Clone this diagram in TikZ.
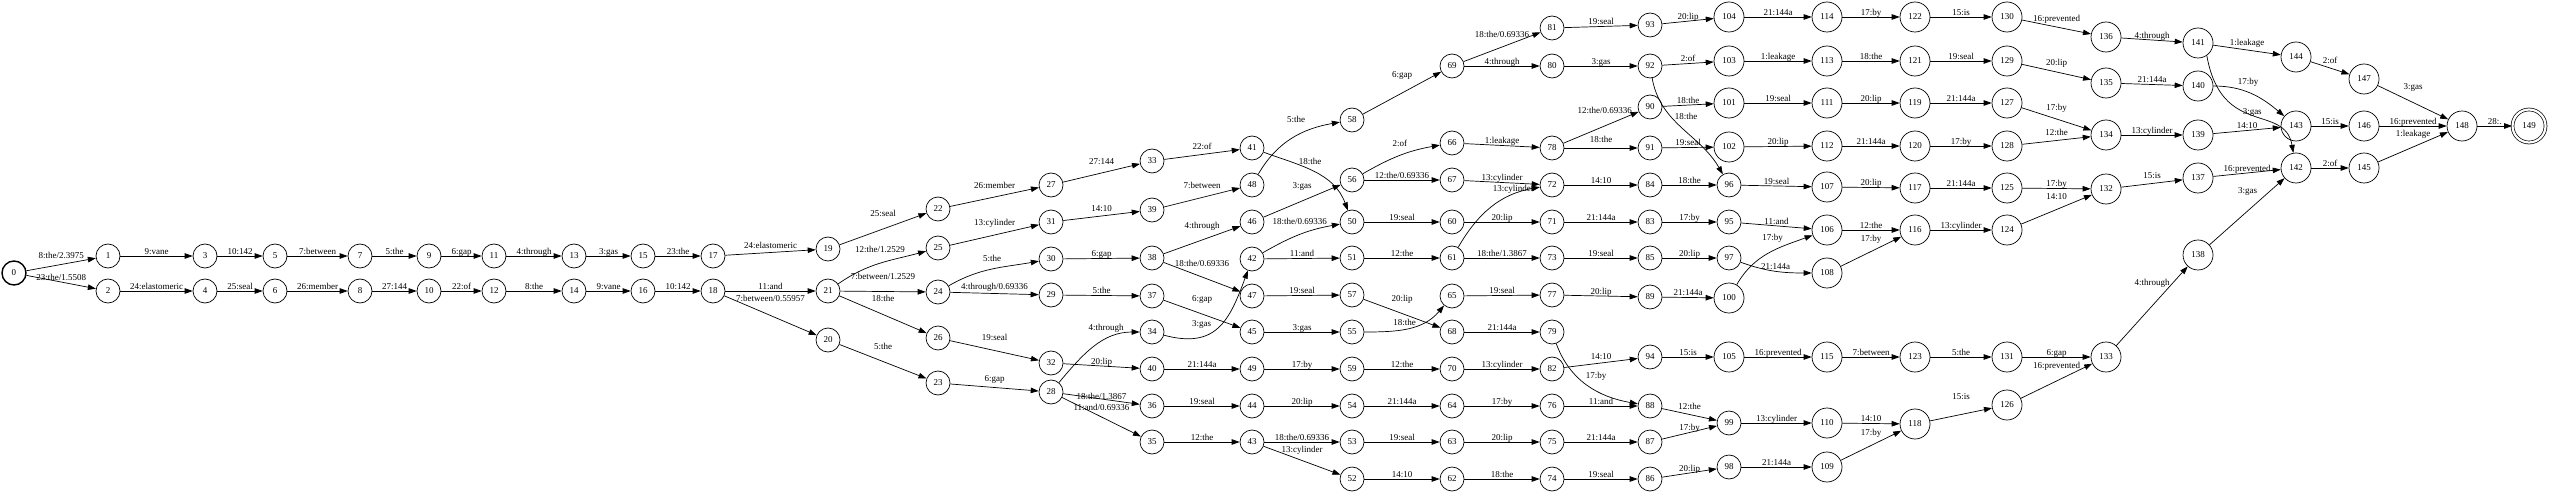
\documentclass[tikz,border=0pt]{standalone}
\usepackage{fontspec}
\setmainfont{Liberation Serif}
\usetikzlibrary{arrows.meta}

\begin{document}
\begin{tikzpicture}[x=1pt,y=1pt,>={Triangle[length=8pt,width=5.5pt]}]
  \tikzstyle{st}=[circle,draw,line width=.7pt,inner sep=0pt,minimum size=24pt,font=\fontsize{9}{10}\selectfont]
  \tikzstyle{wst}=[st,minimum size=30pt]
  \tikzstyle{fin}=[st,double,double distance=2.2pt,minimum size=33pt]
  \tikzstyle{lab}=[font=\fontsize{9}{10}\selectfont,text height=6.2pt,text depth=0pt,inner sep=1.5pt]
  \useasboundingbox (0,0) rectangle (2550,-494);
  \node[st,line width=1.4pt] (n0) at (14,-273) {0};
  \node[st] (n1) at (108,-256) {1};
  \node[st] (n2) at (108,-291) {2};
  \node[st] (n3) at (205,-256) {3};
  \node[st] (n4) at (205,-291) {4};
  \node[st] (n5) at (275,-256) {5};
  \node[st] (n6) at (275,-291) {6};
  \node[st] (n7) at (360,-256) {7};
  \node[st] (n8) at (360,-291) {8};
  \node[st] (n9) at (429,-256) {9};
  \node[st] (n10) at (429,-291) {10};
  \node[st] (n11) at (494,-256) {11};
  \node[st] (n12) at (494,-291) {12};
  \node[st] (n13) at (574,-256) {13};
  \node[st] (n14) at (574,-291) {14};
  \node[st] (n15) at (643,-256) {15};
  \node[st] (n16) at (643,-291) {16};
  \node[st] (n17) at (713,-256) {17};
  \node[st] (n18) at (713,-291) {18};
  \node[st] (n19) at (828,-249) {19};
  \node[st] (n20) at (828,-340) {20};
  \node[st] (n21) at (828,-291) {21};
  \node[st] (n22) at (938,-209) {22};
  \node[st] (n23) at (938,-383) {23};
  \node[st] (n24) at (938,-292) {24};
  \node[st] (n25) at (938,-248) {25};
  \node[st] (n26) at (938,-338) {26};
  \node[st] (n27) at (1051,-185) {27};
  \node[st] (n28) at (1051,-392) {28};
  \node[st] (n29) at (1051,-295) {29};
  \node[st] (n30) at (1051,-259) {30};
  \node[st] (n31) at (1051,-222) {31};
  \node[st] (n32) at (1051,-363) {32};
  \node[st] (n33) at (1152,-161) {33};
  \node[st] (n34) at (1152,-332) {34};
  \node[st] (n35) at (1152,-442) {35};
  \node[st] (n36) at (1152,-406) {36};
  \node[st] (n37) at (1152,-296) {37};
  \node[st] (n38) at (1152,-258) {38};
  \node[st] (n39) at (1152,-210) {39};
  \node[st] (n40) at (1152,-369) {40};
  \node[st] (n41) at (1252,-148) {41};
  \node[st] (n42) at (1252,-259) {42};
  \node[st] (n43) at (1252,-442) {43};
  \node[st] (n44) at (1252,-406) {44};
  \node[st] (n45) at (1252,-332) {45};
  \node[st] (n46) at (1252,-222) {46};
  \node[st] (n47) at (1252,-296) {47};
  \node[st] (n48) at (1252,-185) {48};
  \node[st] (n49) at (1252,-369) {49};
  \node[st] (n50) at (1352,-222) {50};
  \node[st] (n51) at (1352,-258) {51};
  \node[st] (n52) at (1352,-479) {52};
  \node[st] (n53) at (1352,-442) {53};
  \node[st] (n54) at (1352,-406) {54};
  \node[st] (n55) at (1352,-332) {55};
  \node[st] (n56) at (1352,-180) {56};
  \node[st] (n57) at (1352,-295) {57};
  \node[st] (n58) at (1352,-120) {58};
  \node[st] (n59) at (1352,-369) {59};
  \node[st] (n60) at (1452,-222) {60};
  \node[st] (n61) at (1452,-258) {61};
  \node[st] (n62) at (1452,-479) {62};
  \node[st] (n63) at (1452,-442) {63};
  \node[st] (n64) at (1452,-406) {64};
  \node[st] (n65) at (1452,-296) {65};
  \node[st] (n66) at (1452,-143) {66};
  \node[st] (n67) at (1452,-180) {67};
  \node[st] (n68) at (1452,-332) {68};
  \node[st] (n69) at (1452,-66) {69};
  \node[st] (n70) at (1452,-369) {70};
  \node[st] (n71) at (1552,-222) {71};
  \node[st] (n72) at (1552,-185) {72};
  \node[st] (n73) at (1552,-258) {73};
  \node[st] (n74) at (1552,-479) {74};
  \node[st] (n75) at (1552,-442) {75};
  \node[st] (n76) at (1552,-406) {76};
  \node[st] (n77) at (1552,-295) {77};
  \node[st] (n78) at (1552,-148) {78};
  \node[st] (n79) at (1552,-332) {79};
  \node[st] (n80) at (1552,-66) {80};
  \node[st] (n81) at (1552,-28) {81};
  \node[st] (n82) at (1552,-369) {82};
  \node[st] (n83) at (1650,-222) {83};
  \node[st] (n84) at (1650,-185) {84};
  \node[st] (n85) at (1650,-258) {85};
  \node[st] (n86) at (1650,-479) {86};
  \node[st] (n87) at (1650,-442) {87};
  \node[st] (n88) at (1650,-406) {88};
  \node[st] (n89) at (1650,-297) {89};
  \node[st] (n90) at (1650,-107) {90};
  \node[st] (n91) at (1650,-148) {91};
  \node[st] (n92) at (1650,-66) {92};
  \node[st] (n93) at (1650,-25) {93};
  \node[st] (n94) at (1650,-357) {94};
  \node[st] (n95) at (1729,-222) {95};
  \node[st] (n96) at (1729,-185) {96};
  \node[st] (n97) at (1729,-258) {97};
  \node[st] (n98) at (1729,-467) {98};
  \node[st] (n99) at (1729,-423) {99};
  \node[wst] (n100) at (1729,-298) {100};
  \node[wst] (n101) at (1729,-103) {101};
  \node[wst] (n102) at (1729,-147) {102};
  \node[wst] (n103) at (1729,-61) {103};
  \node[wst] (n104) at (1729,-17) {104};
  \node[wst] (n105) at (1729,-357) {105};
  \node[wst] (n106) at (1827,-230) {106};
  \node[wst] (n107) at (1827,-187) {107};
  \node[wst] (n108) at (1827,-273) {108};
  \node[wst] (n109) at (1827,-467) {109};
  \node[wst] (n110) at (1827,-423) {110};
  \node[wst] (n111) at (1827,-103) {111};
  \node[wst] (n112) at (1827,-146) {112};
  \node[wst] (n113) at (1827,-61) {113};
  \node[wst] (n114) at (1827,-17) {114};
  \node[wst] (n115) at (1827,-357) {115};
  \node[wst] (n116) at (1915,-230) {116};
  \node[wst] (n117) at (1915,-188) {117};
  \node[wst] (n118) at (1915,-424) {118};
  \node[wst] (n119) at (1915,-103) {119};
  \node[wst] (n120) at (1915,-146) {120};
  \node[wst] (n121) at (1915,-61) {121};
  \node[wst] (n122) at (1915,-17) {122};
  \node[wst] (n123) at (1915,-357) {123};
  \node[wst] (n124) at (2007,-230) {124};
  \node[wst] (n125) at (2007,-188) {125};
  \node[wst] (n126) at (2007,-405) {126};
  \node[wst] (n127) at (2007,-103) {127};
  \node[wst] (n128) at (2007,-146) {128};
  \node[wst] (n129) at (2007,-61) {129};
  \node[wst] (n130) at (2007,-17) {130};
  \node[wst] (n131) at (2007,-357) {131};
  \node[wst] (n132) at (2106,-189) {132};
  \node[wst] (n133) at (2106,-357) {133};
  \node[wst] (n134) at (2106,-135) {134};
  \node[wst] (n135) at (2106,-83) {135};
  \node[wst] (n136) at (2106,-37) {136};
  \node[wst] (n137) at (2198,-178) {137};
  \node[wst] (n138) at (2198,-255) {138};
  \node[wst] (n139) at (2198,-135) {139};
  \node[wst] (n140) at (2198,-86) {140};
  \node[wst] (n141) at (2198,-43) {141};
  \node[wst] (n142) at (2296,-168) {142};
  \node[wst] (n143) at (2296,-126) {143};
  \node[wst] (n144) at (2296,-57) {144};
  \node[wst] (n145) at (2364,-168) {145};
  \node[wst] (n146) at (2364,-126) {146};
  \node[wst] (n147) at (2364,-79) {147};
  \node[wst] (n148) at (2462,-126) {148};
  \node[fin] (n149) at (2529,-126) {149};
  \begin{scope}[->,line width=.7pt]
  \draw (n0) -- node[lab,above=4pt] {8:the/2.3975} (n1);
  \draw (n0) -- node[lab,above] {23:the/1.5508} (n2);
  \draw (n1) -- node[lab,above] {9:vane} (n3);
  \draw (n2) -- node[lab,above] {24:elastomeric} (n4);
  \draw (n3) -- node[lab,above] {10:142} (n5);
  \draw (n4) -- node[lab,above] {25:seal} (n6);
  \draw (n5) -- node[lab,above] {7:between} (n7);
  \draw (n6) -- node[lab,above] {26:member} (n8);
  \draw (n7) -- node[lab,above] {5:the} (n9);
  \draw (n8) -- node[lab,above] {27:144} (n10);
  \draw (n9) -- node[lab,above] {6:gap} (n11);
  \draw (n10) -- node[lab,above] {22:of} (n12);
  \draw (n11) -- node[lab,above] {4:through} (n13);
  \draw (n12) -- node[lab,above] {8:the} (n14);
  \draw (n13) -- node[lab,above] {3:gas} (n15);
  \draw (n14) -- node[lab,above] {9:vane} (n16);
  \draw (n15) -- node[lab,above] {23:the} (n17);
  \draw (n16) -- node[lab,above] {10:142} (n18);
  \draw (n17) -- node[lab,above=2pt] {24:elastomeric} (n19);
  \draw (n18) -- node[lab,above] {11:and} (n21);
  \draw (n18) -- node[lab,above=12pt] {7:between/0.55957} (n20);
  \draw (n19) -- node[lab,above=11pt] {25:seal} (n22);
  \draw (n21) to[out=35,in=195] node[lab,above=9pt] {12:the/1.2529} (n25);
  \draw (n21) -- node[lab,above=10pt] {7:between/1.2529} (n24);
  \draw (n21) -- node[lab,above=11pt] {18:the} (n26);
  \draw (n20) -- node[lab,above=10pt] {5:the} (n23);
  \draw (n22) -- node[lab,above=7pt] {26:member} (n27);
  \draw (n25) -- node[lab,above=8pt] {13:cylinder} (n31);
  \draw (n24) to[out=30,in=190] node[lab,above=6pt] {5:the} (n30);
  \draw (n24) -- node[lab,above=2pt] {4:through/0.69336} (n29);
  \draw (n26) -- node[lab,above=8pt] {19:seal} (n32);
  \draw (n23) -- node[lab,above=4pt] {6:gap} (n28);
  \draw (n27) -- node[lab,above=7pt] {27:144} (n33);
  \draw (n33) -- node[lab,above=3pt] {22:of} (n41);
  \draw (n31) -- node[lab,above=3pt] {14:10} (n39);
  \draw (n39) -- node[lab,above=7pt] {7:between} (n48);
  \draw (n30) -- node[lab,above] {6:gap} (n38);
  \draw (n38) -- node[lab,above=10pt] {4:through} (n46);
  \draw (n38) -- node[lab,above=9pt] {18:the/0.69336} (n47);
  \draw (n29) -- node[lab,above] {5:the} (n37);
  \draw (n37) -- node[lab,above=11pt] {6:gap} (n45);
  \draw (n28) to[out=50,in=180] node[lab,pos=.65,above=7pt] {4:through} (n34);
  \draw (n34) to[out=-15,in=-110,looseness=1.3] node[lab,pos=.3,above=9pt] {3:gas} (n42);
  \draw (n32) -- node[lab,above] {20:lip} (n40);
  \draw (n40) -- node[lab,above] {21:144a} (n49);
  \draw (n28) -- node[lab,above=-2pt] {18:the/1.3867} (n36);
  \draw (n28) -- node[lab,above=5pt] {11:and/0.69336} (n35);
  \draw (n36) -- node[lab,above] {19:seal} (n44);
  \draw (n35) -- node[lab,above] {12:the} (n43);
  \draw (n41) to[out=-20,in=110] node[lab,pos=.45,above=4pt] {18:the} (n50);
  \draw (n48) to[out=60,in=190] node[lab,pos=.55,above=12pt] {5:the} (n58);
  \draw (n46) -- node[lab,above=11pt] {3:gas} (n56);
  \draw (n42) to[out=30,in=190] node[lab,above=8pt] {18:the/0.69336} (n50);
  \draw (n42) -- node[lab,above] {11:and} (n51);
  \draw (n47) -- node[lab,above] {19:seal} (n57);
  \draw (n45) -- node[lab,above] {3:gas} (n55);
  \draw (n49) -- node[lab,above] {17:by} (n59);
  \draw (n44) -- node[lab,above] {20:lip} (n54);
  \draw (n43) -- node[lab,above] {18:the/0.69336} (n53);
  \draw (n43) -- node[lab,above=6pt] {13:cylinder} (n52);
  \draw (n58) -- node[lab,above=14pt] {6:gap} (n69);
  \draw (n56) to[out=30,in=190] node[lab,above=7pt] {2:of} (n66);
  \draw (n56) -- node[lab,above] {12:the/0.69336} (n67);
  \draw (n50) -- node[lab,above] {19:seal} (n60);
  \draw (n51) -- node[lab,above] {12:the} (n61);
  \draw (n57) -- node[lab,above=10pt] {20:lip} (n68);
  \draw (n55) to[out=0,in=230] node[lab,pos=.45,above=2pt] {18:the} (n65);
  \draw (n59) -- node[lab,above] {12:the} (n70);
  \draw (n54) -- node[lab,above] {21:144a} (n64);
  \draw (n53) -- node[lab,above] {19:seal} (n63);
  \draw (n52) -- node[lab,above] {14:10} (n62);
  \draw (n69) -- node[lab,above=8pt] {18:the/0.69336} (n81);
  \draw (n69) -- node[lab,above] {4:through} (n80);
  \draw (n66) -- node[lab,above] {1:leakage} (n78);
  \draw (n67) -- node[lab,above] {13:cylinder} (n72);
  \draw (n61) to[out=60,in=190] node[lab,pos=.75,above=1pt] {13:cylinder} (n72);
  \draw (n60) -- node[lab,above] {20:lip} (n71);
  \draw (n61) -- node[lab,above] {18:the/1.3867} (n73);
  \draw (n65) -- node[lab,above] {19:seal} (n77);
  \draw (n68) -- node[lab,above] {21:144a} (n79);
  \draw (n70) -- node[lab,above] {13:cylinder} (n82);
  \draw (n64) -- node[lab,above] {17:by} (n76);
  \draw (n63) -- node[lab,above] {20:lip} (n75);
  \draw (n62) -- node[lab,above] {18:the} (n74);
  \draw (n81) -- node[lab,above] {19:seal} (n93);
  \draw (n80) -- node[lab,above] {3:gas} (n92);
  \draw (n78) -- node[lab,pos=.55,above=11pt] {12:the/0.69336} (n90);
  \draw (n78) -- node[lab,above=4pt] {18:the} (n91);
  \draw (n72) -- node[lab,above] {14:10} (n84);
  \draw (n71) -- node[lab,above] {21:144a} (n83);
  \draw (n73) -- node[lab,above] {19:seal} (n85);
  \draw (n77) -- node[lab,above] {20:lip} (n89);
  \draw (n82) -- node[lab,above=2pt] {14:10} (n94);
  \draw (n79) to[out=-70,in=170] node[lab,pos=.35,right=8pt] {17:by} (n88);
  \draw (n76) -- node[lab,above] {11:and} (n88);
  \draw (n75) -- node[lab,above] {21:144a} (n87);
  \draw (n74) -- node[lab,above] {19:seal} (n86);
  \draw (n93) -- node[lab,above] {20:lip} (n104);
  \draw (n92) -- node[lab,above] {2:of} (n103);
  \draw (n90) -- node[lab,above] {18:the} (n101);
  \draw (n92) to[out=-80,in=120] node[lab,pos=.35,right=3pt] {18:the} (n96);
  \draw (n91) -- node[lab,above] {19:seal} (n102);
  \draw (n84) -- node[lab,above] {18:the} (n96);
  \draw (n83) -- node[lab,above] {17:by} (n95);
  \draw (n85) -- node[lab,above] {20:lip} (n97);
  \draw (n89) -- node[lab,above] {21:144a} (n100);
  \draw (n94) -- node[lab,above] {15:is} (n105);
  \draw (n88) -- node[lab,above=3pt] {12:the} (n99);
  \draw (n87) -- node[lab,above] {17:by} (n99);
  \draw (n86) -- node[lab,above] {20:lip} (n98);
  \draw (n104) -- node[lab,above] {21:144a} (n114);
  \draw (n103) -- node[lab,above] {1:leakage} (n113);
  \draw (n101) -- node[lab,above] {19:seal} (n111);
  \draw (n102) -- node[lab,above] {20:lip} (n112);
  \draw (n96) -- node[lab,above] {19:seal} (n107);
  \draw (n95) -- node[lab,above] {11:and} (n106);
  \draw (n100) to[out=60,in=200] node[lab,pos=.55,above=9pt] {17:by} (n106);
  \draw (n97) to[out=-20,in=180] node[lab,above] {21:144a} (n108);
  \draw (n105) -- node[lab,above] {16:prevented} (n115);
  \draw (n99) -- node[lab,above] {13:cylinder} (n110);
  \draw (n98) -- node[lab,above] {21:144a} (n109);
  \draw (n114) -- node[lab,above] {17:by} (n122);
  \draw (n113) -- node[lab,above] {18:the} (n121);
  \draw (n111) -- node[lab,above] {20:lip} (n119);
  \draw (n112) -- node[lab,above] {21:144a} (n120);
  \draw (n107) -- node[lab,above] {20:lip} (n117);
  \draw (n106) -- node[lab,above] {12:the} (n116);
  \draw (n108) -- node[lab,above=8pt] {17:by} (n116);
  \draw (n115) -- node[lab,above] {7:between} (n123);
  \draw (n110) -- node[lab,above] {14:10} (n118);
  \draw (n109) -- node[lab,above=8pt] {17:by} (n118);
  \draw (n122) -- node[lab,above] {15:is} (n130);
  \draw (n121) -- node[lab,above] {19:seal} (n129);
  \draw (n119) -- node[lab,above] {21:144a} (n127);
  \draw (n120) -- node[lab,above] {17:by} (n128);
  \draw (n117) -- node[lab,above] {21:144a} (n125);
  \draw (n116) -- node[lab,above] {13:cylinder} (n124);
  \draw (n123) -- node[lab,above] {5:the} (n131);
  \draw (n118) -- node[lab,above=13pt] {15:is} (n126);
  \draw (n130) -- node[lab,above=4pt] {16:prevented} (n136);
  \draw (n129) -- node[lab,above=5pt] {20:lip} (n135);
  \draw (n127) -- node[lab,above=7pt] {17:by} (n134);
  \draw (n128) -- node[lab,above=3pt] {12:the} (n134);
  \draw (n125) -- node[lab,above] {17:by} (n132);
  \draw (n124) -- node[lab,above=8pt] {14:10} (n132);
  \draw (n131) -- node[lab,above] {6:gap} (n133);
  \draw (n126) -- node[lab,above=11pt] {16:prevented} (n133);
  \draw (n136) -- node[lab,above] {4:through} (n141);
  \draw (n135) -- node[lab,above] {21:144a} (n140);
  \draw (n134) -- node[lab,above] {13:cylinder} (n139);
  \draw (n132) -- node[lab,above=3pt] {15:is} (n137);
  \draw (n133) -- node[lab,pos=.8,left=2pt] {4:through} (n138);
  \draw (n141) -- node[lab,above=3pt] {1:leakage} (n144);
  \draw (n140) to[out=0,in=140] node[lab,pos=.45,above=6pt] {17:by} (n143);
  \draw (n141.-55) to[out=-80,in=100,out looseness=1.65] node[lab,pos=.5,above] {3:gas} (n142.100);
  \draw (n139) -- node[lab,above] {14:10} (n143);
  \draw (n137) -- node[lab,above] {16:prevented} (n142);
  \draw (n138) -- node[lab,pos=.82,left=12pt] {3:gas} (n142);
  \draw (n144) -- node[lab,above=3pt] {2:of} (n147);
  \draw (n143) -- node[lab,above] {15:is} (n146);
  \draw (n142) -- node[lab,above] {2:of} (n145);
  \draw (n147) -- node[lab,above=11pt] {3:gas} (n148);
  \draw (n146) -- node[lab,above] {16:prevented} (n148);
  \draw (n145) -- node[lab,above=9pt] {1:leakage} (n148);
  \draw (n148) -- node[lab,above] {28:.} (n149);
  \end{scope}
\end{tikzpicture}
\end{document}
